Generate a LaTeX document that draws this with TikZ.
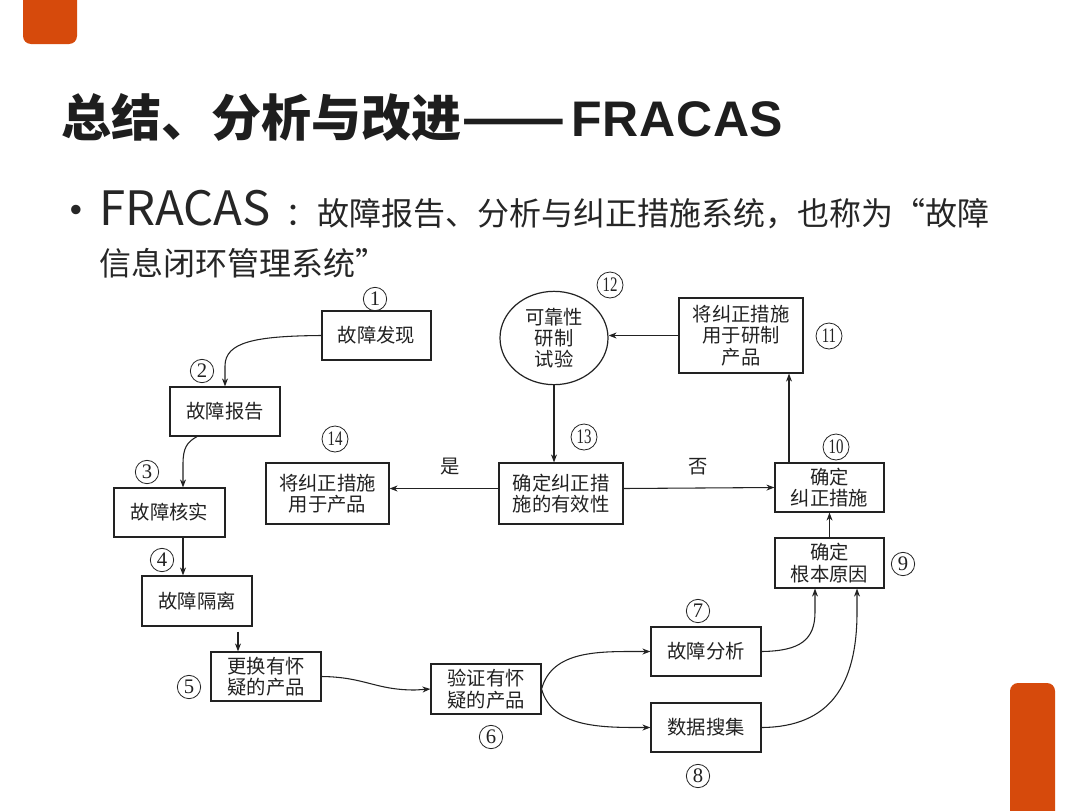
\documentclass[tikz,border=0pt]{standalone}
\usepackage{fontspec}
\setmainfont{Noto Sans CJK SC}
\newfontfamily\latb{Liberation Sans}[LetterSpace=1.5]
\newfontfamily\numfont{Liberation Serif}
\usetikzlibrary{arrows.meta,calc,shapes.geometric}
\definecolor{accent}{HTML}{D64A0C}
\definecolor{ink}{HTML}{1E1E1E}
\definecolor{body}{HTML}{262626}
\definecolor{line}{HTML}{222222}
\tikzset{
  box/.style={draw=line, line width=0.9pt, rectangle, inner sep=0pt, align=center,
    font=\fontsize{14.5}{16}\selectfont, text=line},
  oval/.style={box, ellipse},
  cn/.style={circle, draw=line, line width=0.6pt, inner sep=0pt, minimum size=17.5pt,
    font=\numfont\fontsize{15.5}{15.5}\selectfont, text=line},
  cnn/.style={cn, minimum size=19.5pt, font=\numfont\fontsize{15.5}{15.5}\selectfont},
  arr/.style={draw=line, line width=0.8pt, -{Stealth[length=6pt,width=4.5pt]}},
  lbl/.style={font=\fontsize{14.5}{16}\selectfont, text=line},
}
\begin{document}
\begin{tikzpicture}[x=0.75pt,y=-0.75pt]
\useasboundingbox[fill=white] (0,0) rectangle (1080,810);
% orange decorations
\fill[accent, rounded corners=6pt] (23,-30) rectangle (77,44);
\fill[accent, rounded corners=6pt] (1010,683) rectangle (1055,840);
% title
\node[anchor=west, inner sep=0pt, text=ink, font=\bfseries\fontsize{37.5}{40}\selectfont] (title) at (61,117)
  {总结、分析与改进\scalebox{1.22}[1]{——}\hspace{4pt}{\latb\bfseries FRACAS}};
% bullet
\node[anchor=center, inner sep=0pt, text=body, font=\latb\fontsize{26}{26}\selectfont] (dot) at (76,213) {•};
\node[anchor=west, inner sep=0pt, text=body] (l1) at (99,210)
  {{\fontsize{35.5}{40}\selectfont FRACAS\hspace{11pt}}{\fontsize{24}{28}\selectfont ：故障报告、分析与纠正措施系统，也称为“故障}};
\node[anchor=west, inner sep=0pt, text=body, font=\fontsize{24}{28}\selectfont] (l2) at (99,263)
  {信息闭环管理系统”};
% boxes
\node[box, minimum width=81.75pt, minimum height=36.75pt] (b1) at (376.5,335.5) {故障发现};
\node[box, minimum width=82.5pt, minimum height=36.75pt] (b2) at (225,411.5) {故障报告};
\node[box, minimum width=83.25pt, minimum height=36.75pt] (b3) at (169.5,512.5) {故障核实};
\node[box, minimum width=82.5pt, minimum height=37.5pt] (b4) at (197,601) {故障隔离};
\node[box, minimum width=82.5pt, minimum height=36.75pt] (b5) at (266,676.5) {更换有怀\\疑的产品};
\node[box, minimum width=82.5pt, minimum height=37.5pt] (b6) at (486,689) {验证有怀\\疑的产品};
\node[box, minimum width=82.5pt, minimum height=36.75pt] (b7) at (706,651.5) {故障分析};
\node[box, minimum width=82.5pt, minimum height=36.75pt] (b8) at (706,727.5) {数据搜集};
\node[box, minimum width=81.75pt, minimum height=37.5pt] (b9) at (829.5,563) {确定\\根本原因};
\node[box, minimum width=81.75pt, minimum height=36.75pt] (b10) at (829.5,487.5) {确定\\纠正措施};
\node[box, minimum width=93pt, minimum height=56.25pt] (b11) at (741,335.5) {将纠正措施\\用于研制\\产品};
\node[oval, minimum width=81pt, minimum height=70pt] (b12) at (554,338) {可靠性\\研制\\试验};
\node[box, minimum width=93pt, minimum height=45.75pt] (b13) at (561,493.5) {确定纠正措\\施的有效性};
\node[box, minimum width=92.25pt, minimum height=45.75pt] (b14) at (327.5,493.5) {将纠正措施\\用于产品};
% circled numbers
\node[cn] (n1) at (375,299) {1};
\node[cn] (n2) at (202,371) {2};
\node[cn] (n3) at (147,472) {3};
\node[cn] (n4) at (162,560) {4};
\node[cn] (n5) at (189,687) {5};
\node[cn] (n6) at (491,737) {6};
\node[cn] (n7) at (698,611) {7};
\node[cn] (n8) at (698,776) {8};
\node[cn] (n9) at (903,564) {9};
\node[cnn] (n10) at (836,447) {\scalebox{0.72}[1]{10}};
\node[cnn] (n11) at (829,336) {\scalebox{0.72}[1]{11}};
\node[cnn] (n12) at (610,285) {\scalebox{0.72}[1]{12}};
\node[cnn] (n13) at (584,437) {\scalebox{0.72}[1]{13}};
\node[cnn] (n14) at (335,439) {\scalebox{0.72}[1]{14}};
% yes / no labels
\node[lbl] (yes) at (450,467) {是};
\node[lbl] (no) at (698,467) {否};
% connectors
\draw[arr] (b1.west) .. controls (255,336) and (225,342) .. (225,366) -- (b2.north);
\draw[arr] ($(b2.south)+(-28,0)$) .. controls (187,442) and (183,448) .. (183,464) -- ($(b3.north)+(13.5,0)$);
\draw[arr] ($(b3.south)+(13.5,0)$) -- ($(b4.north)+(-14,0)$);
\draw[arr] ($(b4.south)+(41,5)$) -- ($(b5.north)+(-28,0)$);
\draw[arr] (b5.east) .. controls (365,677) and (375,690) .. (415,690) -- (b6.west);
\draw[arr] (b6.east) .. controls (552,650) and (600,651.5) .. (640,651.5) -- (b7.west);
\draw[arr] (b6.east) .. controls (552,727) and (600,727.5) .. (640,727.5) -- (b8.west);
\draw[arr] (b7.east) .. controls (800,651) and (815,640) .. (815,612) -- ($(b9.south)+(-14.5,0)$);
\draw[arr] (b8.east) .. controls (830,727) and (857,685) .. (857,612) -- ($(b9.south)+(27.5,0)$);
\draw[arr] (b9.north) -- (b10.south);
\draw[arr] ($(b10.north)+(-40.5,0)$) -- ($(b11.south)+(48,0)$);
\draw[arr] (b11.west) -- (b11.west -| b12.east);
\draw[arr] (b12.south) -- (b13.north -| b12.south);
\draw[arr] ($(b13.west)+(0,-5)$) -- ($(b14.east)+(0,-5)$);
\draw[arr] ($(b13.east)+(0,-5)$) -- (b10.west);
\end{tikzpicture}
\end{document}
